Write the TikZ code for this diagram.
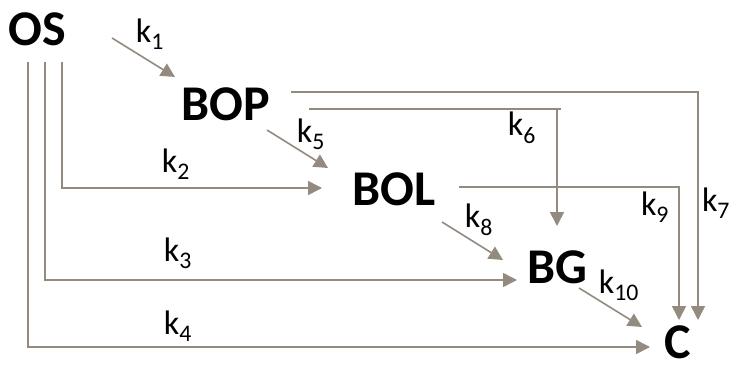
\documentclass[tikz,border=0pt]{standalone}
\usepackage{fontspec}
\setmainfont{Carlito}
\usetikzlibrary{arrows.meta}
\definecolor{flow}{RGB}{147,138,128}
\newcommand{\rk}[1]{k\textsubscript{#1}}
\begin{document}
\begin{tikzpicture}[x=1pt,y=-1pt,
  species/.style={font=\fontsize{50}{50}\selectfont\bfseries, inner sep=0pt},
  rate/.style={font=\fontsize{34}{34}\selectfont, inner sep=0pt},
  flowarrow/.style={draw=flow, line width=1.6pt, -{Triangle[length=14pt,width=14pt]}},
  flowline/.style={draw=flow, line width=1.6pt}]
\useasboundingbox (0,0) rectangle (733,364);

% species
\node[species] (OS)  at (37,29)   {OS};
\node[species] (BOP) at (226,104) {BOP};
\node[species] (BOL) at (394,189) {BOL};
\node[species] (BG)  at (557,267) {BG};
\node[species] (C)   at (678,342) {C};

% rate constants
\node[rate] (k1)  at (150,34)  {\rk{1}};
\node[rate] (k2)  at (176,164) {\rk{2}};
\node[rate] (k3)  at (178,253) {\rk{3}};
\node[rate] (k4)  at (178,326) {\rk{4}};
\node[rate] (k5)  at (311,134) {\rk{5}};
\node[rate] (k6)  at (522,128) {\rk{6}};
\node[rate] (k7)  at (716,203) {\rk{7}};
\node[rate] (k8)  at (479,220) {\rk{8}};
\node[rate] (k9)  at (655,207) {\rk{9}};
\node[rate] (k10) at (619,285) {\rk{10}};

% end points of the reaction paths
\coordinate (os1) at (112,38);   \coordinate (bop1) at (175,77);
\coordinate (os2) at (62,62);    \coordinate (bol2) at (322,188);
\coordinate (os3) at (45,62);    \coordinate (bg3)  at (517,280);
\coordinate (os4) at (28,62);    \coordinate (c4)   at (650,347);
\coordinate (bop5) at (267,130); \coordinate (bol5) at (328,168);
\coordinate (bop6) at (309,109); \coordinate (bg6)  at (557,226);
\coordinate (bop7) at (291,92);  \coordinate (c7)   at (698,320);
\coordinate (bol8) at (442,222); \coordinate (bg8)  at (503,260);
\coordinate (bol9) at (459,187); \coordinate (c9)   at (679,320);
\coordinate (bg10) at (579,288); \coordinate (c10)  at (642,327);

% OS -> BOP
\draw[flowarrow] (os1) -- (bop1);
% OS -> BOL, BG, C
\draw[flowarrow] (os2) |- (bol2);
\draw[flowarrow] (os3) |- (bg3);
\draw[flowarrow] (os4) |- (c4);
% BOP -> BOL
\draw[flowarrow] (bop5) -- (bol5);
% BOP -> BG
\draw[flowline] (bop6) -- (bop6 -| 561,0);
\draw[flowarrow] (bop6 -| bg6) -- (bg6);
% BOP -> C
\draw[flowarrow] (bop7) -| (c7);
% BOL -> BG
\draw[flowarrow] (bol8) -- (bg8);
% BOL -> C
\draw[flowarrow] (bol9) -| (c9);
% BG -> C
\draw[flowarrow] (bg10) -- (c10);
\end{tikzpicture}
\end{document}
